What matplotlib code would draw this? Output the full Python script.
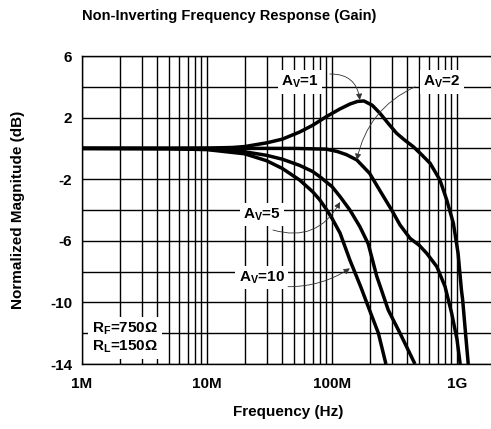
import matplotlib
matplotlib.use("Agg")
import matplotlib.pyplot as plt
from matplotlib.ticker import FixedLocator, NullFormatter

# --- dane (czestotliwosc w Hz, wzmocnienie w dB) ---
f_av1 = [1e6, 10e6, 16e6, 20e6, 30e6, 40e6, 55e6, 70e6, 90e6, 115e6, 139e6, 160e6, 180e6,
         210e6, 242e6, 290e6, 329e6, 380e6, 447e6, 520e6, 610e6, 730e6, 828e6, 935e6,
         1.02e9, 1.085e9, 1.11e9, 1.17e9, 1.23e9]
g_av1 = [0, 0.02, 0.06, 0.12, 0.36, 0.6, 1.06, 1.5, 2.06, 2.55, 2.88, 3.05, 3.08,
         2.8, 2.28, 1.5, 0.98, 0.55, 0.11, -0.4, -0.97, -2.05, -3.35, -4.86,
         -6.81, -9.2, -9.84, -12.0, -14.0]

f_av2 = [1e6, 50e6, 90e6, 110e6, 130e6, 158e6, 200e6, 240e6, 300e6, 350e6, 421e6, 500e6,
         572e6, 690e6, 802e6, 906e6, 1.0e9, 1.06e9]
g_av2 = [0, 0, -0.05, -0.2, -0.4, -0.75, -1.62, -2.7, -4.0, -4.97, -5.84, -6.3,
         -6.81, -7.68, -8.97, -10.7, -12.4, -14.0]

f_av5 = [1e6, 5e6, 10e6, 20e6, 30e6, 40e6, 55e6, 70e6, 80e6, 100e6, 116e6, 139e6, 167e6,
         195e6, 228e6, 282e6, 350e6, 461e6]
g_av5 = [0, -0.02, -0.05, -0.22, -0.45, -0.7, -1.1, -1.5, -1.84, -2.48, -3.13, -4.0, -5.08,
         -6.2, -8.3, -10.5, -12.0, -14.0]

f_av10 = [1e6, 5e6, 10e6, 20e6, 30e6, 40e6, 55e6, 70e6, 80e6, 90e6, 100e6, 116e6, 139e6,
          170e6, 195e6, 235e6, 270e6]
g_av10 = [0, -0.02, -0.08, -0.35, -0.8, -1.3, -2.05, -2.81, -3.35, -3.95, -4.54, -5.5, -7.25,
          -9.0, -10.28, -12.0, -14.0]

x_major = [1e6, 1e7, 1e8, 1e9]
x_labels = ["1M", "10M", "100M", "1G"]
y_labels = [6, 2, -2, -6, -10, -14]

plt.rcParams["font.family"] = ["Liberation Sans", "DejaVu Sans"]
plt.rcParams["font.weight"] = "bold"
plt.rcParams["mathtext.fontset"] = "custom"
plt.rcParams["mathtext.rm"] = "Liberation Sans:bold"
plt.rcParams["mathtext.it"] = "Liberation Sans:bold"
plt.rcParams["mathtext.bf"] = "Liberation Sans:bold"

fig = plt.figure(figsize=(4.91, 4.29), dpi=100)
ax = fig.add_axes([82 / 491, 1 - 364 / 429, 409 / 491, 308 / 429])

for f, g in [(f_av1, g_av1), (f_av2, g_av2), (f_av5, g_av5), (f_av10, g_av10)]:
    ax.plot(f, g, color="black", linewidth=2.5, zorder=3, solid_capstyle="butt",
            solid_joinstyle="round")

ax.set_xscale("log")
ax.set_xlim(1e6, 10 ** (6 + 409 / 125))
ax.set_ylim(-14, 6)

minor = [m * 10 ** e for e in range(6, 10) for m in range(2, 10)]
ax.xaxis.set_major_locator(FixedLocator(x_major))
ax.xaxis.set_minor_locator(FixedLocator(minor))
ax.xaxis.set_minor_formatter(NullFormatter())
ax.set_xticklabels(x_labels)
ax.set_yticks(range(-14, 7, 2))
ax.set_yticklabels([str(v) if v in y_labels else "" for v in range(-14, 7, 2)])

ax.grid(True, which="both", color="black", linewidth=1.0)
ax.tick_params(which="both", length=0, labelsize=11)
ax.tick_params(axis="x", pad=9)
ax.tick_params(axis="y", pad=7)
for s in ["left", "bottom", "top"]:
    ax.spines[s].set_linewidth(1.0)
ax.spines["right"].set_visible(False)

box = dict(facecolor="white", edgecolor="none", pad=2.5)
lab = dict(fontsize=11, fontweight="bold", ha="center", va="center", bbox=box, zorder=4)
ax.text(55.5e6, 4.3, r"A$_\mathrm{V}$=1", **lab)
ax.text(760e6, 4.3, r"A$_\mathrm{V}$=2", **lab)
ax.text(27.5e6, -4.3, r"A$_\mathrm{V}$=5", **lab)
ax.text(27.5e6, -8.4, r"A$_\mathrm{V}$=10", **lab)
ax.text(1.2e6, -12.3, "R$_\\mathrm{F}$=750\u03a9\nR$_\\mathrm{L}$=150\u03a9", fontsize=11,
        fontweight="bold", ha="left", va="center", linespacing=1.1,
        bbox=dict(facecolor="white", edgecolor="none", pad=3), zorder=4)

arr = dict(arrowstyle="-|>", color="#333333", linewidth=0.6, mutation_scale=9, shrinkA=0, shrinkB=0)
ax.annotate("", xy=(167e6, 3.14), xytext=(96e6, 4.83),
            arrowprops=dict(connectionstyle="arc3,rad=-0.45", **arr), zorder=5)
ax.annotate("", xy=(158e6, -0.75), xytext=(461e6, 4.0),
            arrowprops=dict(connectionstyle="arc3,rad=0.25", **arr), zorder=5)
ax.annotate("", xy=(116e6, -3.48), xytext=(33.7e6, -5.3),
            arrowprops=dict(connectionstyle="arc3,rad=0.4", **arr), zorder=5)
ax.annotate("", xy=(139e6, -7.79), xytext=(44.5e6, -8.98),
            arrowprops=dict(connectionstyle="arc3,rad=0.15", **arr), zorder=5)

fig.text(82 / 491, 1 - 16 / 429, "Non-Inverting Frequency Response (Gain)", fontsize=10.5,
         fontweight="bold", ha="left", va="center")
fig.text(288 / 491, 1 - 412 / 429, "Frequency (Hz)", fontsize=11, fontweight="bold",
         ha="center", va="center")
fig.text(18 / 491, 1 - 210 / 429, "Normalized Magnitude (dB)", fontsize=11, fontweight="bold",
         ha="center", va="center", rotation=90)

fig.savefig("out.png", dpi=100)
